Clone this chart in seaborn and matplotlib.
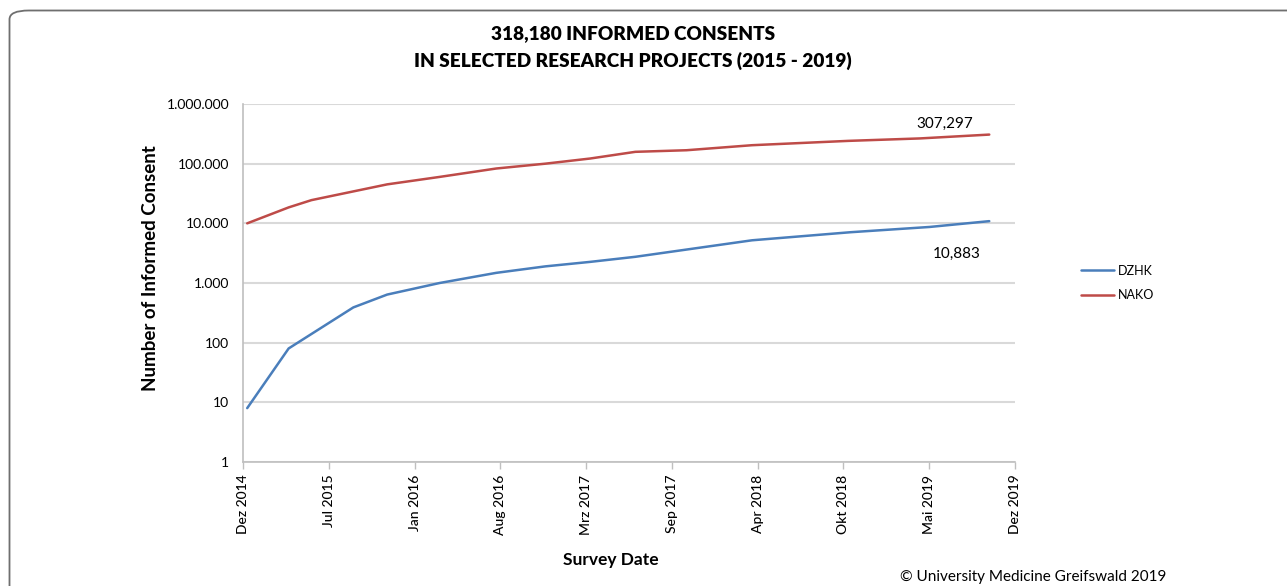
import pandas as pd
import numpy as np
import matplotlib
matplotlib.use("Agg")
import matplotlib.pyplot as plt
import matplotlib.dates as mdates
from matplotlib.patches import FancyBboxPatch
from matplotlib.ticker import FixedLocator, FuncFormatter
import seaborn as sns

# values (log scale)
dzhk_dates = ["2014-12-11", "2015-03-19", "2015-08-19", "2015-11-07", "2016-03-10",
              "2016-07-22", "2016-11-15", "2017-03-01", "2017-06-16", "2018-03-19",
              "2018-11-07", "2019-05-13", "2019-10-01"]
dzhk_values = [8, 80, 390, 640, 1000, 1480, 1900, 2260, 2750, 5200, 7100, 8700, 10883]

nako_dates = ["2014-12-11", "2015-03-19", "2015-05-12", "2015-11-07", "2016-03-10",
              "2016-07-22", "2016-11-15", "2017-03-01", "2017-06-16", "2017-10-15",
              "2018-03-19", "2018-11-01", "2019-04-20", "2019-10-01"]
nako_values = [10000, 18500, 24500, 45000, 60000, 83000, 100000, 122000, 158000, 168000,
               204000, 241000, 265000, 307297]

tick_labels = ["Dez 2014", "Jul 2015", "Jan 2016", "Aug 2016", "Mrz 2017",
               "Sep 2017", "Apr 2018", "Okt 2018", "Mai 2019", "Dez 2019"]

df = pd.concat([
    pd.DataFrame({"date": pd.to_datetime(dzhk_dates), "count": dzhk_values, "project": "DZHK"}),
    pd.DataFrame({"date": pd.to_datetime(nako_dates), "count": nako_values, "project": "NAKO"}),
])

sns.set_theme(style="white")
plt.rcParams["font.family"] = ["Lato", "DejaVu Sans"]
plt.rcParams["text.color"] = "black"
plt.rcParams["axes.labelcolor"] = "black"
plt.rcParams["xtick.labelcolor"] = "black"
plt.rcParams["ytick.labelcolor"] = "black"

fig = plt.figure(figsize=(12.87, 5.86), dpi=100)
ax = fig.add_axes([0.1888, 0.2116, 0.5999, 0.6109])

# rounded frame around the whole chart (cut at right/bottom like the source)
frame = FancyBboxPatch((9.5 / 1287, -0.2), 1.2, 1.2 - 10.5 / 586,
                       boxstyle="round,pad=0,rounding_size=0.015",
                       transform=fig.transFigure, fill=False,
                       edgecolor="#6f6f6f", linewidth=1.3, mutation_aspect=586 / 1287 * 2.2)
fig.patches.append(frame)

sns.lineplot(data=df, x="date", y="count", hue="project",
             palette={"DZHK": "#4A7EBB", "NAKO": "#BE4B48"},
             linewidth=1.8, ax=ax, legend=True)

ax.set_yscale("log")
ax.set_ylim(1, 1e6)
ax.yaxis.set_major_locator(FixedLocator([1, 10, 100, 1e3, 1e4, 1e5, 1e6]))
ax.yaxis.set_minor_locator(FixedLocator([]))
ax.yaxis.set_major_formatter(FuncFormatter(lambda v, p: f"{int(round(v)):,}".replace(",", ".")))

start = mdates.date2num(pd.Timestamp("2014-12-01"))
end = mdates.date2num(pd.Timestamp("2019-12-01"))
ax.set_xlim(start, end)
ax.set_xticks(np.linspace(start, end, len(tick_labels)))
ax.set_xticklabels(tick_labels, rotation=90, fontsize=10, weight="medium")
ax.tick_params(axis="x", which="major", direction="out", length=5, color="#bfbfbf",
               width=1, bottom=True, pad=4)
ax.tick_params(axis="y", labelsize=10, length=0, pad=10)

ax.grid(axis="y", color="#d9d9d9", linewidth=1.5)
ax.grid(axis="x", visible=False)
for side in ["top", "right"]:
    ax.spines[side].set_visible(False)
for side in ["left", "bottom"]:
    ax.spines[side].set_color("#bfbfbf")
    ax.spines[side].set_linewidth(1.2)

ax.set_xlabel("Survey Date", fontsize=12.5, weight="bold")
ax.set_ylabel("Number of Informed Consent", fontsize=13.5, weight="bold")
ax.xaxis.set_label_coords(0.477, -0.252)
ax.yaxis.set_label_coords(-0.109, 0.543)

ax.text(0.909, 0.944, "307,297", transform=ax.transAxes, ha="center", va="center", fontsize=11)
ax.text(0.925, 0.581, "10,883", transform=ax.transAxes, ha="center", va="center", fontsize=11)

handles, labels = ax.get_legend_handles_labels()
ax.legend(handles, labels, loc="center left", bbox_to_anchor=(1070 / 1287, 1 - 283 / 586),
          bbox_transform=fig.transFigure, frameon=False, fontsize=9,
          handlelength=2.6, handletextpad=0.3, labelspacing=1.0)

fig.text(633 / 1287, 1 - 34 / 586, "318,180 INFORMED CONSENTS", ha="center", va="center",
         fontsize=13.7, weight="heavy")
fig.text(633 / 1287, 1 - 61 / 586, "IN SELECTED RESEARCH PROJECTS (2015 - 2019)", ha="center",
         va="center", fontsize=13.7, weight="heavy")
fig.text(900 / 1287, 1 - 577 / 586, "\u00a9 University Medicine Greifswald 2019", ha="left",
         va="center", fontsize=11)

fig.savefig("out.png", dpi=100)
